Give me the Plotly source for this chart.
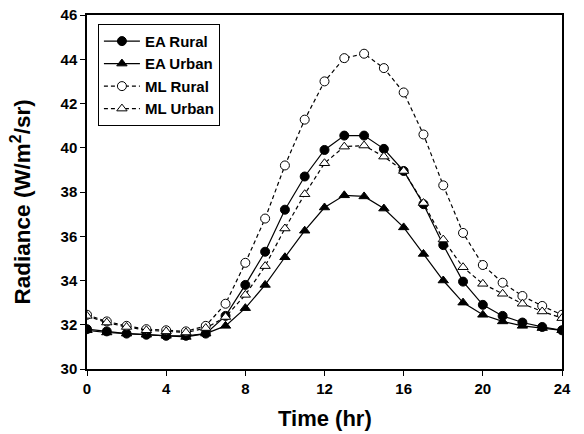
import plotly.graph_objects as go

hours = list(range(25))
ea_rural = [31.8, 31.7, 31.6, 31.55, 31.5, 31.5, 31.6, 32.4, 33.8, 35.3, 37.2, 38.7, 39.9, 40.55, 40.55,
            39.95, 38.95, 37.45, 35.6, 33.95, 32.9, 32.4, 32.1, 31.9, 31.75]
ea_urban = [31.75, 31.65, 31.6, 31.55, 31.5, 31.45, 31.6, 31.95, 32.75, 33.8, 35.05, 36.25, 37.3, 37.85, 37.8,
            37.25, 36.4, 35.2, 34.0, 33.0, 32.45, 32.15, 31.95, 31.85, 31.75]
ml_rural = [32.45, 32.15, 31.95, 31.8, 31.75, 31.7, 31.95, 32.95, 34.8, 36.8, 39.2, 41.27, 43.0, 44.05, 44.25,
            43.6, 42.5, 40.6, 38.3, 36.15, 34.7, 33.9, 33.3, 32.85, 32.45]
ml_urban = [32.4, 32.1, 31.9, 31.75, 31.7, 31.65, 31.85, 32.35, 33.35, 34.65, 36.35, 37.9, 39.3, 40.05, 40.1,
            39.6, 38.95, 37.5, 35.85, 34.6, 33.85, 33.4, 32.95, 32.6, 32.3]

x_ticks = [0, 4, 8, 12, 16, 20, 24]
y_ticks = [30, 32, 34, 36, 38, 40, 42, 44, 46]

FONT = "Liberation Sans, Arial, sans-serif"

fig = go.Figure()
series = [
    ("EA Rural", ea_rural, "solid", "circle", "black"),
    ("EA Urban", ea_urban, "solid", "triangle-up", "black"),
    ("ML Rural", ml_rural, "4px,3px", "circle", "white"),
    ("ML Urban", ml_urban, "4px,3px", "triangle-up", "white"),
]
for name, vals, dash, sym, fill in series:
    fig.add_trace(go.Scatter(
        x=hours, y=vals, name=name, mode="lines+markers",
        line=dict(color="black", width=1.2, dash=dash),
        marker=dict(symbol=sym, size=9, color=fill, line=dict(color="black", width=1)),
    ))

fig.update_layout(
    width=584, height=434,
    margin=dict(l=87, r=22, t=15, b=65, autoexpand=False),
    paper_bgcolor="white", plot_bgcolor="white",
    font=dict(family=FONT, color="black"),
    showlegend=True,
    legend=dict(x=0.023, y=0.975, xanchor="left", yanchor="top",
                bordercolor="black", borderwidth=1, bgcolor="white",
                font=dict(size=15, family=FONT, weight="bold"),
                tracegroupgap=0, itemwidth=36),
    xaxis=dict(range=[0, 24], tickvals=x_ticks, ticktext=[str(t) for t in x_ticks],
               showgrid=False, zeroline=False, showline=True, linecolor="black", linewidth=1.5,
               mirror=True, ticks="outside", ticklen=5, tickwidth=1.2, tickcolor="black",
               tickfont=dict(size=15, weight="bold"), automargin=False,
               ticklabeloverflow="allow"),
    yaxis=dict(range=[30, 46], tickvals=y_ticks, ticktext=[str(t) for t in y_ticks],
               showgrid=False, zeroline=False, showline=True, linecolor="black", linewidth=1.5,
               mirror=True, ticks="outside", ticklen=5, tickwidth=1.2, tickcolor="black",
               tickfont=dict(size=15, weight="bold"), automargin=False,
               ticklabeloverflow="allow"),
    annotations=[
        dict(text="Time (hr)", xref="paper", yref="paper", x=0.5, y=-0.141,
             xanchor="center", yanchor="middle", showarrow=False,
             font=dict(size=22, weight="bold", family=FONT)),
        dict(text="Radiance (W/m<sup>2</sup>/sr)", xref="paper", yref="paper", x=-0.14, y=0.472,
             xanchor="center", yanchor="middle", showarrow=False, textangle=-90,
             font=dict(size=22.5, weight="bold", family=FONT)),
    ],
)

fig.write_html(
    "out.html",
    config={"displayModeBar": False},
    post_script="document.body.style.margin='0';document.body.style.overflow='hidden';",
)
